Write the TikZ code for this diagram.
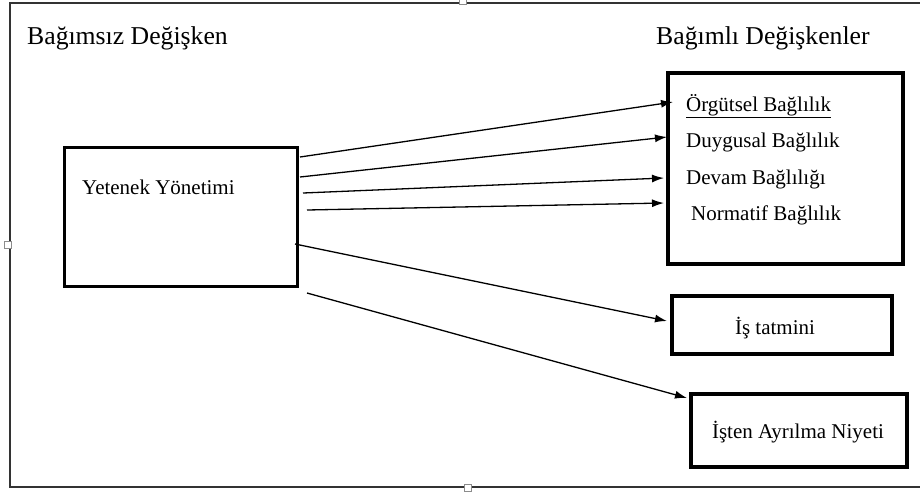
\documentclass[tikz,border=0pt]{standalone}
\usepackage{fontspec}
\setmainfont{Liberation Serif}
\usetikzlibrary{arrows.meta}
\begin{document}
\begin{tikzpicture}[x=1pt,y=-1pt,
  box/.style={draw=black,line width=3.6pt,rectangle,inner sep=0pt},
  hdr/.style={anchor=base west,inner sep=0pt,font=\fontsize{25.7}{30}\selectfont},
  lbl/.style={anchor=base west,inner sep=0pt,font=\fontsize{21}{25}\selectfont},
  arr/.style={line width=1.3pt,-{Latex[length=12pt,width=8pt]}},
  frame/.style={line width=1.8pt,draw=black!80},
  handle/.style={draw=black!45,fill=white,line width=0.8pt,minimum size=7pt,inner sep=0pt,rectangle}]
\useasboundingbox (0,0) rectangle (920,491);
% outer frame
\coordinate (f1) at (10,3);
\coordinate (f2) at (920,3);
\coordinate (f3) at (10,487);
\coordinate (f4) at (920,487);
\draw[frame] (f2) -- (f1) -- (f3) -- (f4);
\node[handle] (h1) at (463,1) {};
\node[handle] (h2) at (8,245) {};
\node[handle] (h3) at (468,488) {};
% headers
\node[hdr] (t1) at (27,44) {Bağımsız Değişken};
\node[hdr] (t2) at (656,44) {Bağımlı Değişkenler};
% boxes
\node[box,minimum width=233pt,minimum height=139pt] (ty) at (181,217) {};
\node[box,minimum width=235pt,minimum height=191pt] (bd) at (785.5,168.5) {};
\node[box,minimum width=220pt,minimum height=58pt] (it) at (782,325) {};
\node[box,minimum width=216pt,minimum height=73pt] (ia) at (799,430.5) {};
% texts
\node[lbl] (l0) at (82,194) {Yetenek Yönetimi};
\node[lbl] (l1) at (686,111) {\underline{Örgütsel Bağlılık}};
\node[lbl] (l2) at (686,147) {Duygusal Bağlılık};
\node[lbl] (l3) at (686,184) {Devam Bağlılığı};
\node[lbl] (l4) at (691,220) {Normatif Bağlılık};
\node[lbl,anchor=center] (l5) at (775,328) {İş tatmini};
\node[lbl,anchor=center] (l6) at (798,432) {İşten Ayrılma Niyeti};
% connectors
\coordinate (s1) at (300,157); \coordinate (e1) at (673,102);
\coordinate (s2) at (300,177); \coordinate (e2) at (667,137);
\coordinate (s3) at (303,193); \coordinate (e3) at (664,178);
\coordinate (s4) at (307,210); \coordinate (e4) at (664,203);
\coordinate (s5) at (295,244); \coordinate (e5) at (667,321);
\coordinate (s6) at (307,293); \coordinate (e6) at (687,398);
\draw[arr] (s1) -- (e1);
\draw[arr] (s2) -- (e2);
\draw[arr] (s3) -- (e3);
\draw[arr] (s4) -- (e4);
\draw[arr] (s5) -- (e5);
\draw[arr] (s6) -- (e6);
\end{tikzpicture}
\end{document}
